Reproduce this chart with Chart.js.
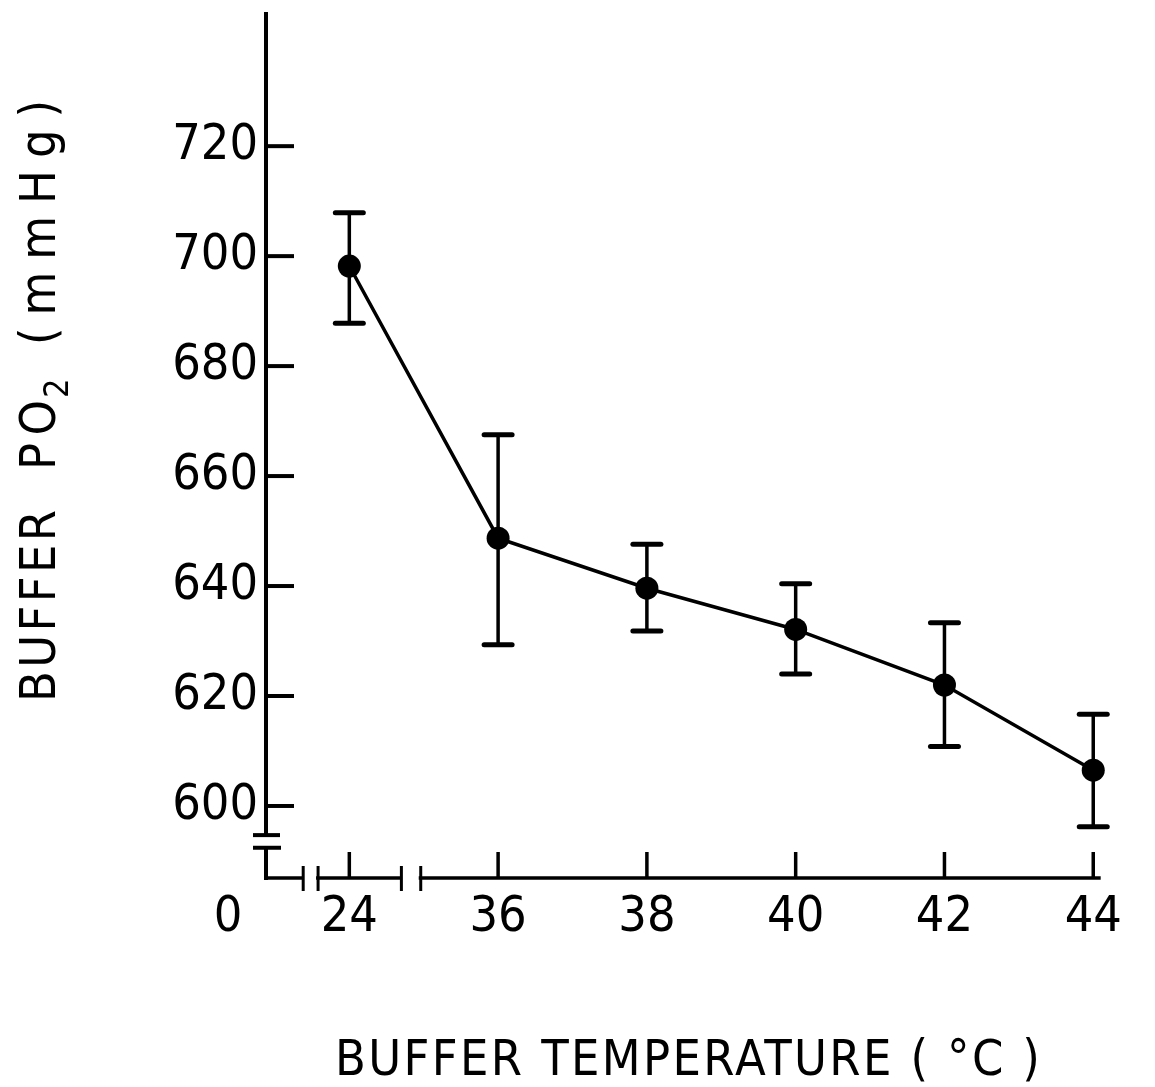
<!DOCTYPE html>
<html><head><meta charset="utf-8">
<script src="https://cdn.jsdelivr.net/npm/chart.js@4.4.1/dist/chart.umd.min.js"></script>
<style>html,body{margin:0;padding:0;background:#fff;overflow:hidden}#wrap{width:1155px;height:1087px}</style>
</head><body><div id="wrap"><canvas id="c" width="1155" height="1087"></canvas></div>
<script>
// ---- data ----
const categories = ['24', '36', '38', '40', '42', '44'];
const po2Mean  = [698.2, 648.7, 639.6, 632.1, 622.0, 606.5];
const po2Upper = [707.9, 667.5, 647.6, 640.4, 633.3, 616.7];
const po2Lower = [687.8, 629.3, 631.8, 624.0, 610.8, 596.2];
const yTickValues = [600, 620, 640, 660, 680, 700, 720];
const originLabel = '0';
const xTitle = 'BUFFER TEMPERATURE ( \u00B0C )';
const yTitleParts = ['BUFFER', 'PO', '2', '(mmHg)'];

const FONT = "'Liberation Sans Narrow','DejaVu Sans Condensed','Liberation Sans',sans-serif";
const INK = '#000';

function seg(ctx, x1, y1, x2, y2) { ctx.beginPath(); ctx.moveTo(x1, y1); ctx.lineTo(x2, y2); ctx.stroke(); }
function fitText(ctx, txt, x, y, target) {
  ctx.letterSpacing = '0px';
  const w = ctx.measureText(txt).width;
  const n = [...txt].length;
  const ls = n > 1 ? (target - w) / (n - 1) : 0;
  ctx.letterSpacing = ls.toFixed(2) + 'px';
  ctx.fillText(txt, x, y);
  ctx.letterSpacing = '0px';
}

const drawPlugin = {
  id: 'scanAxes',
  beforeDraw(chart) {
    const c = chart.ctx; c.save(); c.fillStyle = '#fff'; c.fillRect(0, 0, chart.width, chart.height); c.restore();
  },
  beforeDatasetsDraw(chart) {
    const { ctx, scales: { x, y } } = chart;
    ctx.save(); ctx.strokeStyle = INK; ctx.lineCap = 'round';
    po2Mean.forEach((m, i) => {
      const px = x.getPixelForValue(i);
      const yt = y.getPixelForValue(po2Upper[i]), yb = y.getPixelForValue(po2Lower[i]);
      ctx.lineWidth = 3.5; seg(ctx, px, yt, px, yb);
      ctx.lineWidth = 5; seg(ctx, px - 14, yt, px + 14, yt); seg(ctx, px - 14, yb, px + 14, yb);
    });
    ctx.restore();
  },
  afterDatasetsDraw(chart) {
    const { ctx, chartArea: a, scales: { x, y } } = chart;
    ctx.save(); ctx.strokeStyle = INK; ctx.fillStyle = INK; ctx.lineCap = 'butt';
    const X0 = a.left, Y0 = a.bottom;
    const yb1 = y.getPixelForValue(594.7), yb2 = y.getPixelForValue(592.4);
    // y axis with break
    ctx.lineWidth = 4;
    seg(ctx, X0, a.top, X0, yb1);
    seg(ctx, X0 - 13, yb1, X0 + 14, yb1);
    seg(ctx, X0 - 13, yb2, X0 + 15, yb2);
    seg(ctx, X0, yb2, X0, Y0 + 2);
    // x axis with breaks
    ctx.lineWidth = 3.5;
    const pieces = [[x.min, -0.31], [-0.21, 0.35], [0.48, 5.05]];
    pieces.forEach(p => seg(ctx, x.getPixelForValue(p[0]) - 2, Y0, x.getPixelForValue(p[1]), Y0));
    ctx.lineWidth = 3;
    [-0.31, -0.21, 0.35, 0.48].forEach(v => {
      const px = x.getPixelForValue(v); seg(ctx, px, Y0 - 12, px, Y0 + 13);
    });
    // tick marks (drawn inward)
    ctx.lineWidth = 4;
    yTickValues.forEach(v => { const py = y.getPixelForValue(v); seg(ctx, X0, py, X0 + 28, py); });
    ctx.lineWidth = 3.5;
    categories.forEach((c, i) => { const px = x.getPixelForValue(i); seg(ctx, px, Y0, px, Y0 - 26); });
    // origin label
    ctx.font = `50px ${FONT}`; ctx.textAlign = 'center'; ctx.textBaseline = 'middle';
    ctx.fillText(originLabel, X0 - 38, Y0 + 40);
    // x title
    ctx.textAlign = 'left'; ctx.textBaseline = 'alphabetic';
    fitText(ctx, xTitle, 335, 1075, 705);
    // y title (rotated)
    ctx.translate(55, 702); ctx.rotate(-Math.PI / 2);
    fitText(ctx, yTitleParts[0], 0, 0, 192);
    fitText(ctx, yTitleParts[1], 232, 0, 70);
    ctx.font = `34px ${FONT}`;
    ctx.fillText(yTitleParts[2], 304, 13);
    ctx.font = `50px ${FONT}`;
    fitText(ctx, yTitleParts[3], 357, 0, 245);
    ctx.restore();
  }
};

new Chart(document.getElementById('c'), {
  type: 'line',
  data: {
    datasets: [{
      data: po2Mean.map((v, i) => ({ x: i, y: v })),
      borderColor: INK, borderWidth: 3.5, tension: 0, fill: false,
      pointRadius: 11.5, pointBackgroundColor: INK, pointBorderWidth: 0, pointHoverRadius: 11.5
    }]
  },
  options: {
    responsive: false, animation: false, devicePixelRatio: 1,
    layout: { padding: { top: 12, right: 32, left: 0, bottom: 0 } },
    plugins: { legend: { display: false }, tooltip: { enabled: false } },
    events: [],
    scales: {
      x: {
        type: 'linear', min: -0.56, max: 5.2,
        grid: { display: false, drawTicks: false }, border: { display: false },
        afterBuildTicks: s => { s.ticks = categories.map((c, i) => ({ value: i })); },
        ticks: { callback: v => categories[v], font: { family: FONT, size: 50 }, color: INK, padding: 10, autoSkip: false, maxRotation: 0, minRotation: 0 },
        afterFit: s => { s.height = 209; s.paddingLeft = 0; s.paddingRight = 0; }
      },
      y: {
        type: 'linear', min: 586.9, max: 744.4,
        grid: { display: false, drawTicks: false }, border: { display: false },
        afterBuildTicks: s => { s.ticks = yTickValues.map(v => ({ value: v })); },
        ticks: { font: { family: FONT, size: 50 }, color: INK, padding: 8 },
        afterFit: s => { s.width = 266; s.paddingTop = 0; s.paddingBottom = 0; }
      }
    }
  },
  plugins: [drawPlugin]
});
</script></body></html>
